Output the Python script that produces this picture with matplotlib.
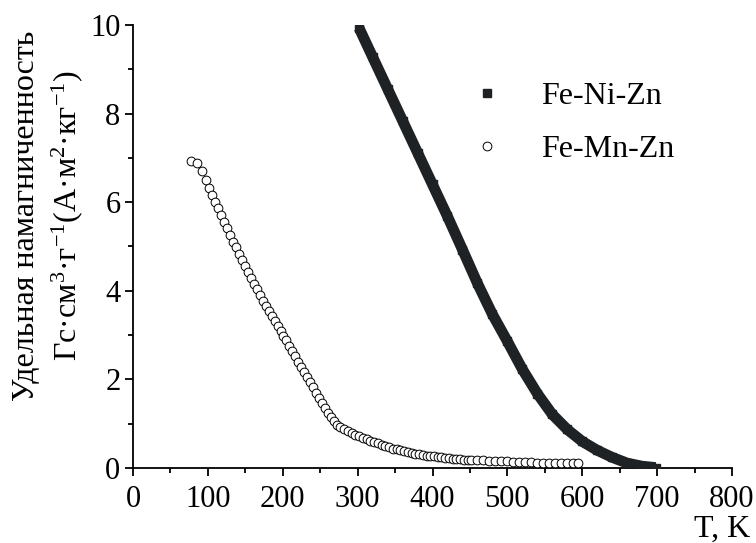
import matplotlib
matplotlib.use("Agg")
import matplotlib.pyplot as plt
from matplotlib.ticker import MultipleLocator

# Temperature dependence of specific magnetization for two ferrites
ni_T = [302, 320, 340, 360, 380, 400, 420, 440, 460, 480, 500, 520, 540,
        560, 580, 600, 620, 640, 660, 680, 698]
ni_M = [9.93, 9.28, 8.56, 7.84, 7.12, 6.40, 5.68, 4.93, 4.17, 3.47, 2.86,
        2.23, 1.68, 1.21, 0.87, 0.60, 0.40, 0.24, 0.11, 0.04, 0.01]

mn_T = [78, 86, 92, 97, 101, 105, 109, 113, 117, 121, 125, 129, 133, 137,
        141, 145, 149, 153, 157, 161, 165, 169, 173, 177, 181, 185, 189, 193,
        197, 201, 205, 209, 213, 217, 221, 225, 229, 233, 237, 241, 245, 249,
        253, 257, 261, 265, 269, 273, 277, 282, 287, 292, 297, 302, 307, 312,
        317, 322, 327, 332, 337, 342, 347, 352, 357, 362, 367, 372, 377, 382,
        387, 392, 397, 402, 407, 412, 417, 422, 427, 432, 437, 442, 447, 452,
        460, 468, 476, 484, 492, 500, 508, 516, 524, 532, 540, 548, 556, 564,
        572, 580, 588, 594]
mn_M = [6.93, 6.88, 6.70, 6.50, 6.33, 6.17, 6.01, 5.86, 5.71, 5.56, 5.41,
        5.26, 5.11, 4.98, 4.84, 4.70, 4.56, 4.42, 4.29, 4.16, 4.03, 3.90,
        3.78, 3.66, 3.54, 3.43, 3.32, 3.21, 3.10, 2.99, 2.88, 2.76, 2.65,
        2.52, 2.40, 2.29, 2.17, 2.05, 1.94, 1.82, 1.70, 1.58, 1.46, 1.35,
        1.24, 1.14, 1.05, 0.98, 0.92, 0.87, 0.83, 0.79, 0.75, 0.72, 0.68,
        0.65, 0.62, 0.59, 0.56, 0.53, 0.50, 0.47, 0.44, 0.42, 0.40, 0.38,
        0.36, 0.34, 0.32, 0.31, 0.29, 0.28, 0.27, 0.26, 0.25, 0.24, 0.23,
        0.22, 0.21, 0.20, 0.20, 0.19, 0.19, 0.18, 0.17, 0.17, 0.16, 0.16,
        0.15, 0.15, 0.14, 0.14, 0.13, 0.13, 0.12, 0.12, 0.12, 0.11, 0.11,
        0.11, 0.11, 0.11]

series_labels = ["Fe-Ni-Zn", "Fe-Mn-Zn"]
x_ticks = [0, 100, 200, 300, 400, 500, 600, 700, 800]
y_ticks = [0, 2, 4, 6, 8, 10]

plt.rcParams["font.family"] = ["Liberation Serif", "DejaVu Serif"]
plt.rcParams["mathtext.fontset"] = "custom"
plt.rcParams["mathtext.rm"] = "Liberation Serif"
plt.rcParams["mathtext.it"] = "Liberation Serif:italic"
plt.rcParams["mathtext.bf"] = "Liberation Serif:bold"

W, H = 756, 543
fig = plt.figure(figsize=(W / 100, H / 100), dpi=100)
ax = fig.add_axes([133 / W, 75 / H, 599 / W, 443 / H])

band = "#1f2225"
ax.plot(ni_T, ni_M, "-", color=band, lw=7.8, solid_capstyle="butt",
        solid_joinstyle="round", zorder=3)
ax.plot(ni_T, ni_M, "s", ms=5.5, color=band, mec=band,
        label=series_labels[0], zorder=3)
ax.plot(mn_T, mn_M, "o", ms=6.3, mfc="white", mec="black", mew=0.7,
        label=series_labels[1], zorder=4)

ax.set_xlim(0, 800)
ax.set_ylim(0, 10)
ax.set_xticks(x_ticks)
ax.set_yticks(y_ticks)
ax.xaxis.set_minor_locator(MultipleLocator(50))
ax.yaxis.set_minor_locator(MultipleLocator(1))

for side in ("top", "right"):
    ax.spines[side].set_visible(False)
for side in ("left", "bottom"):
    ax.spines[side].set_linewidth(1.3)

ax.tick_params(which="major", direction="out", length=6, width=1.3,
               labelsize=22, pad=3)
ax.tick_params(axis="x", which="major", pad=6)
ax.tick_params(which="minor", direction="out", length=3.5, width=1.3)

leg = ax.legend(loc="upper left", bbox_to_anchor=(471 / W, 1 - 82 / H),
                bbox_transform=fig.transFigure, frameon=False, fontsize=23,
                handlelength=1.0, handletextpad=1.2, labelspacing=0.72,
                borderpad=0, borderaxespad=0, markerscale=1.0)

fig.text(27 / W, 1 - 216 / H, "Удельная намагниченность", rotation=90,
         ha="center", va="center", fontsize=23)
fig.text(67 / W, 1 - 216 / H,
         r"Гс·см$^3$·г$^{-1}$(А·м$^2$·кг$^{-1}$)", rotation=90,
         ha="center", va="center", fontsize=23)
fig.text(750 / W, 6 / H, "T, K", ha="right", va="baseline", fontsize=23)

fig.savefig("out.png", dpi=100)
